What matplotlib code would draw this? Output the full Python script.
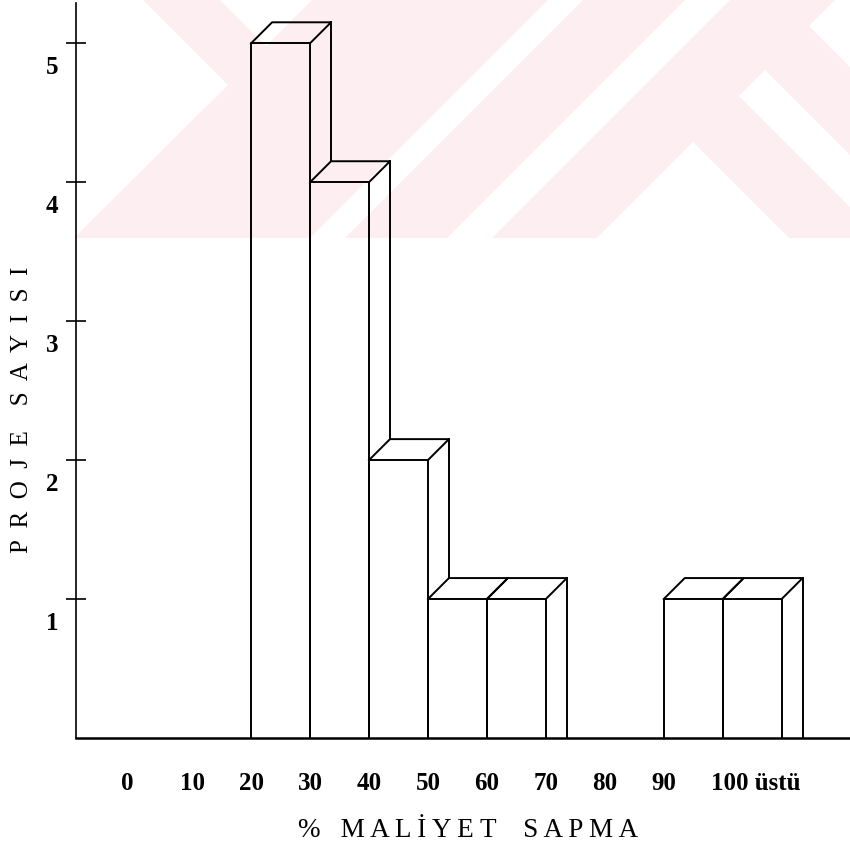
import matplotlib
matplotlib.use("Agg")
import matplotlib.pyplot as plt
from matplotlib.patches import Polygon, Rectangle

# histogram data (lower edge of each 10% bin, number of projects)
bin_edges = [0, 10, 20, 30, 40, 50, 60, 70, 80, 90, 100]
counts = [0, 0, 5, 4, 2, 1, 1, 0, 0, 1, 1]
bin_labels = ["0", "10", "20", "30", "40", "50", "60", "70", "80", "90", "100 üstü"]
y_ticks = [1, 2, 3, 4, 5]
bin_width = 10

W, H = 850, 847
plt.rcParams['font.family'] = ['Liberation Serif', 'DejaVu Serif']

fig = plt.figure(figsize=(W / 100, H / 100), dpi=100)
fig.patch.set_facecolor("white")

def px(x, y):
    # pixel position (origin top left) -> figure fraction
    return (x / W, 1 - y / H)

# pale background watermark of the scanned page
pink = "#fdeef1"
clip = Rectangle(px(0, 238), 1, 238 / H, transform=fig.transFigure)
fig.add_artist(clip)
clip.set_visible(False)
wm_shapes = [
    (pink, [(143, 0), (850, 0), (850, 238), (74, 238), (228, 85)]),
    ("white", [(220, 0), (312, 0), (266, 46)]),
    ("white", [(548, 0), (583, 0), (283, 300), (248, 300)]),
    ("white", [(685, 0), (730, 0), (430, 300), (385, 300)]),
    ("white", [(693, 142), (597, 238), (789, 238)]),
    ("white", [(739, 96), (765, 70), (995, 300), (943, 300)]),
    ("white", [(809, 26), (835, 0), (1200, 0), (1200, 417)]),
]
for col, pts in wm_shapes:
    poly = Polygon([px(a, b) for a, b in pts], closed=True, facecolor=col,
                   edgecolor="none", transform=fig.transFigure, zorder=-5)
    poly.set_clip_path(clip)
    fig.add_artist(poly)

ax = fig.add_axes([76 / W, 1 - 738 / H, 1 - 76 / W, (738 - 3) / H])
ax.patch.set_visible(False)
ax.set_xlim(-9.7, 121.6)
ax.set_ylim(0, 5.29)

# depth of the 3D look, in data units
dx = 21 / 5.89
dy = 21 / 139.0
lw = 1.4
for i, c in enumerate(counts):
    if c == 0:
        continue
    x0 = bin_edges[i]
    x1 = x0 + bin_width
    ax.plot([x0, x0, x1, x1], [0, c, c, 0], color="black", lw=lw)
    ax.plot([x0, x0 + dx, x1 + dx, x1], [c, c + dy, c + dy, c], color="black", lw=lw)
    c_next = counts[i + 1] if i + 1 < len(counts) else 0
    bottom = c_next + dy if c_next > 0 else 0
    if bottom < c + dy:
        ax.plot([x1 + dx, x1 + dx], [c + dy, bottom], color="black", lw=lw)

for s in ["top", "right"]:
    ax.spines[s].set_visible(False)
ax.spines["left"].set_linewidth(1.2)
ax.spines["bottom"].set_linewidth(1.8)
ax.set_xticks([])
ax.set_yticks(y_ticks)
ax.set_yticklabels([])
ax.tick_params(axis="y", direction="inout", length=14.4, width=1.2)

for v in y_ticks:
    ax.annotate(str(v), xy=(0, v), xycoords=("axes fraction", "data"),
                xytext=(-24, -24), textcoords="offset pixels",
                ha="center", va="center", fontsize=18, fontweight="bold")

for edge, lab in zip(bin_edges, bin_labels):
    if lab.startswith("100"):
        ax.annotate(lab, xy=(edge, 0), xycoords=("data", "axes fraction"),
                    xytext=(-12, -45), textcoords="offset pixels",
                    ha="left", va="center", fontsize=18, fontweight="bold")
    else:
        shift = -6 if lab == "0" else 0
        ax.annotate(lab, xy=(edge, 0), xycoords=("data", "axes fraction"),
                    xytext=(shift, -45), textcoords="offset pixels",
                    ha="center", va="center", fontsize=18, fontweight="bold")

fig.text(468 / W, 1 - 830 / H, "%   M A L İ Y E T    S A P M A",
         ha="center", va="center", fontsize=19.5)
fig.text(22 / W, 1 - 410 / H, "P  R  O  J  E    S  A  Y  I  S  I",
         ha="center", va="center", rotation=90, fontsize=18)

fig.savefig("out.png", dpi=100)
